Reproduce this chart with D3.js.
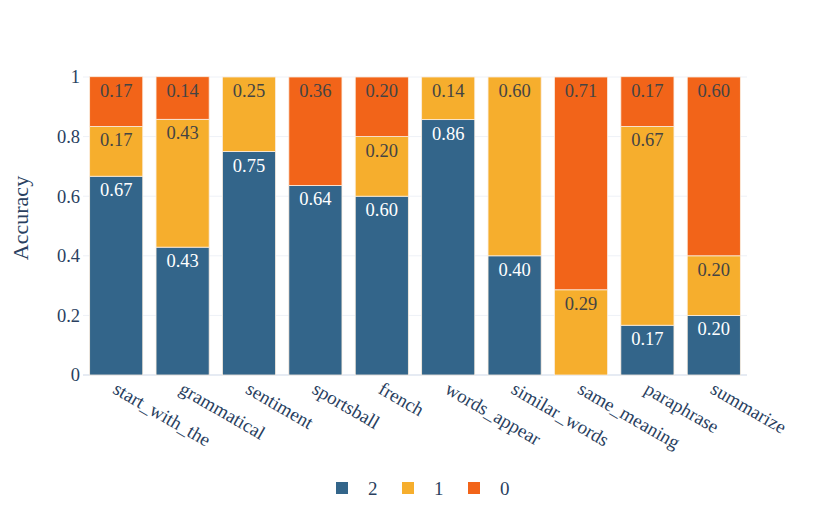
<!DOCTYPE html>
<html>
<head>
<meta charset="utf-8">
<script src="https://cdn.jsdelivr.net/npm/d3@7"></script>
<style>
  body { margin: 0; background: #fff; }
  text { font-family: "Liberation Serif", "DejaVu Serif", serif; }
</style>
</head>
<body>
<svg id="chart" width="830" height="519"></svg>
<script>
// categories and series
var tasks = ["start_with_the", "grammatical", "sentiment", "sportsball", "french",
  "words_appear", "similar_words", "same_meaning", "paraphrase", "summarize"];
var score2 = [0.667, 0.429, 0.75, 0.636, 0.6, 0.857, 0.4, 0, 0.167, 0.2];
var score1 = [0.167, 0.429, 0.25, 0, 0.2, 0.143, 0.6, 0.286, 0.667, 0.2];
var score0 = [0.167, 0.143, 0, 0.364, 0.2, 0, 0, 0.714, 0.167, 0.6];
var seriesNames = ["2", "1", "0"];
var colors = ["#33658a", "#f6ae2d", "#f26419"];
var yTicks = [0, 0.2, 0.4, 0.6, 0.8, 1];

var margin = {left: 83, right: 83, top: 77, bottom: 144};
var width = 830 - margin.left - margin.right,
  height = 519 - margin.top - margin.bottom;

var svg = d3.select("#chart");
var g = svg.append("g")
  .attr("transform", "translate(" + margin.left + "," + margin.top + ")");

var x = d3.scaleBand().domain(tasks).range([0, width])
  .paddingInner(0.2).paddingOuter(0.1);
var y = d3.scaleLinear().domain([0, 1]).range([height, 0]);

// grid
g.selectAll("line.grid")
  .data(yTicks)
  .enter().append("line")
  .attr("class", "grid")
  .attr("x1", 0).attr("x2", width)
  .attr("y1", function (d) { return y(d); })
  .attr("y2", function (d) { return y(d); })
  .attr("stroke", function (d) { return d === 0 ? "#e6ebf3" : "#eef1f7"; })
  .attr("stroke-width", function (d) { return d === 0 ? 2 : 1; });

// stack the data
var rows = tasks.map(function (t, i) {
  return {task: t, "2": score2[i], "1": score1[i], "0": score0[i]};
});
var stacked = d3.stack().keys(seriesNames)(rows);

var layers = g.selectAll("g.layer")
  .data(stacked)
  .enter().append("g")
  .attr("class", "layer");

layers.selectAll("rect")
  .data(function (d, i) { return d.map(function (p) { return {p: p, k: i}; }); })
  .enter().append("rect")
  .filter(function (d) { return d.p[1] - d.p[0] > 0; })
  .attr("x", function (d) { return x(d.p.data.task); })
  .attr("width", x.bandwidth())
  .attr("y", function (d) { return y(d.p[1]); })
  .attr("height", function (d) { return y(d.p[0]) - y(d.p[1]); })
  .attr("fill", function (d) { return colors[d.k]; })
  .attr("stroke", "#fbeee0")
  .attr("stroke-width", 0.8);

layers.selectAll("text")
  .data(function (d, i) { return d.map(function (p) { return {p: p, k: i}; }); })
  .enter().append("text")
  .filter(function (d) { return d.p[1] - d.p[0] > 0; })
  .attr("x", function (d) { return x(d.p.data.task) + x.bandwidth() / 2; })
  .attr("y", function (d) { return y(d.p[1]) + 20; })
  .attr("text-anchor", "middle")
  .attr("font-size", "18.5px")
  .attr("fill", function (d) { return d.k === 0 ? "#ffffff" : "#444444"; })
  .text(function (d) { return d3.format(".2f")(d.p[1] - d.p[0]); });

// y axis
var yAxis = g.append("g")
  .call(d3.axisLeft(y).tickValues(yTicks).tickSize(0).tickPadding(3)
    .tickFormat(function (d) { return d === 0 || d === 1 ? d3.format("d")(d) : d3.format(".1f")(d); }));
yAxis.select(".domain").remove();
yAxis.selectAll("text")
  .attr("font-size", "18.5px")
  .attr("fill", "#2a3f5f")
  .style("font-family", "Liberation Serif, serif");

// x axis
var xAxis = g.append("g")
  .attr("transform", "translate(0," + height + ")")
  .call(d3.axisBottom(x).tickSize(0));
xAxis.select(".domain").remove();
xAxis.selectAll("text")
  .attr("font-size", "19px")
  .attr("fill", "#2a3f5f")
  .attr("text-anchor", "start")
  .attr("dy", 0)
  .attr("transform", "translate(-3,15) rotate(30)")
  .style("font-family", "Liberation Serif, serif");

// y title
svg.append("text")
  .attr("transform", "translate(28,218) rotate(-90)")
  .attr("text-anchor", "middle")
  .attr("font-size", "22px")
  .attr("fill", "#2a3f5f")
  .text("Accuracy");

// legend
var legend = svg.append("g").attr("transform", "translate(336,488)");
var item = legend.selectAll("g")
  .data(seriesNames)
  .enter().append("g")
  .attr("transform", function (d, i) { return "translate(" + (i * 66) + ",0)"; });
item.append("rect")
  .attr("x", 0).attr("y", -6)
  .attr("width", 12).attr("height", 12)
  .attr("fill", function (d, i) { return colors[i]; });
item.append("text")
  .attr("x", 32).attr("y", 7)
  .attr("font-size", "19px")
  .attr("fill", "#2a3f5f")
  .text(function (d) { return d; });
</script>
</body>
</html>
